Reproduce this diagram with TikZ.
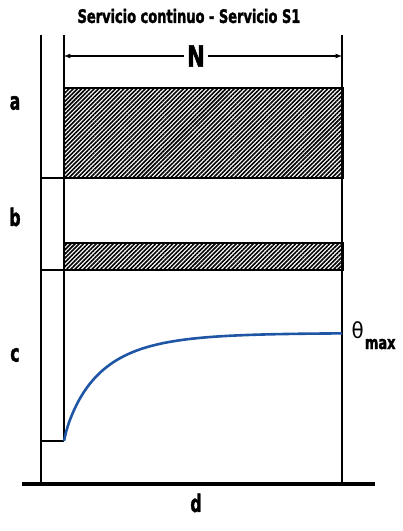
\documentclass[tikz,border=0pt]{standalone}
\usepackage{fontspec}
\setmainfont{DejaVu Sans Condensed}
\newfontfamily\heavy{DejaVu Sans Condensed Bold}[FakeBold=2]
\usetikzlibrary{patterns.meta}
\definecolor{curveblue}{RGB}{30,85,165}
\newcommand{\cond}[3]{\scalebox{#1}[1]{\heavy\fontsize{#2}{#2}\selectfont #3}}
\tikzset{
  hatch/.style={draw,line width=1.2pt,pattern={Lines[angle=45,distance=3pt,line width=1.6pt]}},
  lbl/.style={inner sep=0pt}
}
\begin{document}
\begin{tikzpicture}[x=1pt,y=-1pt,line width=1.2pt,>=latex]
\useasboundingbox (0,0) rectangle (403,531);
% vertical lines
\coordinate (lt) at (41,35); \coordinate (lb) at (41,484);
\coordinate (mt) at (64,35); \coordinate (mb) at (64,441);
\coordinate (rt) at (342,35); \coordinate (rb) at (342,484);
\draw (lt) -- (lb);
\draw (mt) -- (mb);
\draw (rt) -- (rb);
\draw (41,178) -- (64,178);
\draw (41,270) -- (64,270);
\draw (lb |- mb) -- (mb);
% base line
\draw[line width=4pt] (22,484) -- (375,484);
% hatched bars
\draw[hatch] (64,88) rectangle (343,178);
\draw[hatch] (64,243) rectangle (343,270);
% title and N
\node (title) at (189,16) {\cond{0.78}{18.5}{Servicio continuo - Servicio S1}};
\node[fill=white,inner sep=3pt] (N) at (196,56) {\cond{0.8}{29}{N}};
\draw[->] (N) -- (mt |- N);
\draw[->] (N) -- (rt |- N);
% curve
\draw[curveblue,line width=2.6pt,domain=64.01:342,samples=150]
  plot (\x,{441-108*(1-exp(-pow((\x-64)/36,0.85)))});
\node[anchor=base west,inner sep=0pt] (theta) at (351,338) {\fontsize{22}{22}\selectfont θ};
\node[anchor=base west,inner sep=0pt] (max) at (theta.base east) [yshift=-11pt] {\cond{0.8}{18}{max}};
% labels
\node[lbl] (a) at (15,103) {\cond{0.72}{24}{a}};
\node[lbl] (b) at (15,217) {\cond{0.72}{24}{b}};
\node[lbl] (c) at (15,355) {\cond{0.72}{24}{c}};
\node[lbl] (d) at (196,503) {\cond{0.72}{24}{d}};
\end{tikzpicture}
\end{document}
